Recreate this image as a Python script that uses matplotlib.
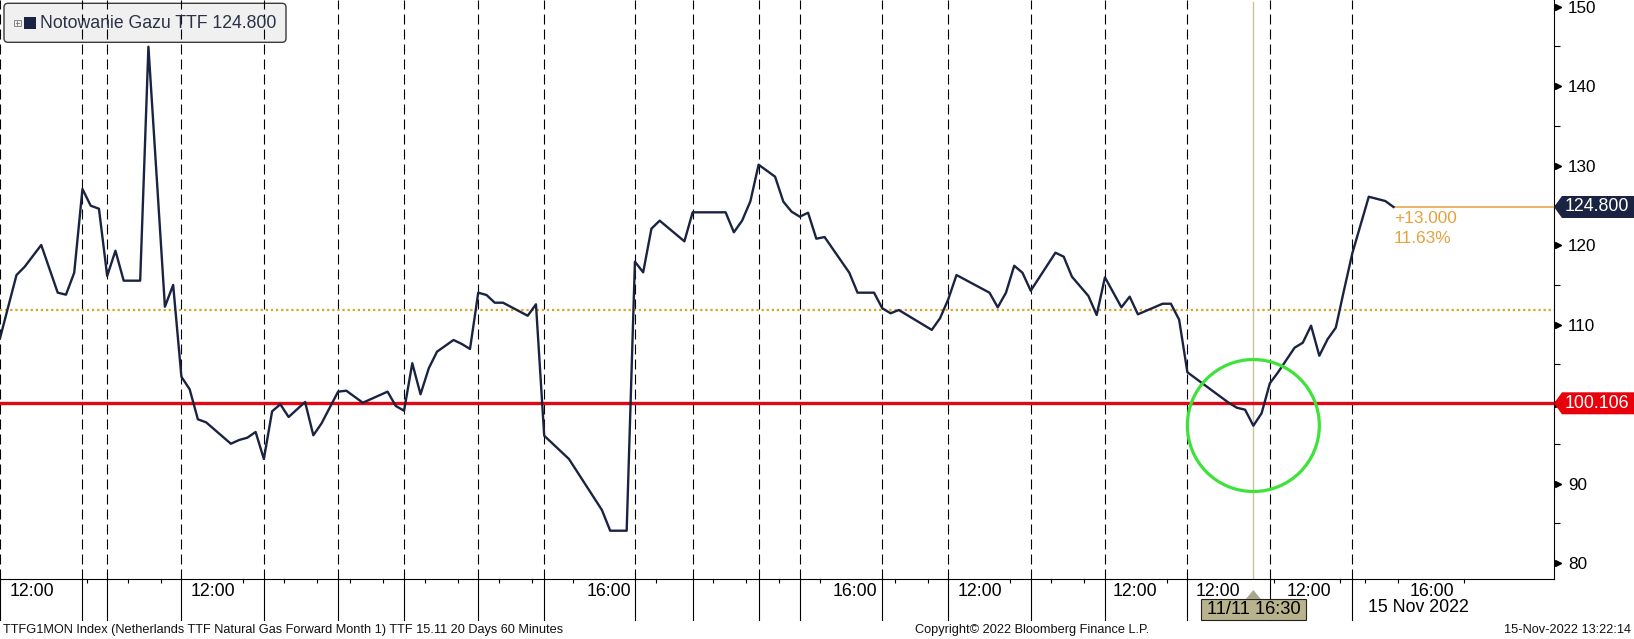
import matplotlib
matplotlib.use('Agg')
import matplotlib.pyplot as plt
from matplotlib.patches import Ellipse, Rectangle, Polygon, FancyBboxPatch
from matplotlib.lines import Line2D
from matplotlib.transforms import blended_transform_factory, IdentityTransform, offset_copy

plt.rcParams['font.family'] = ['Liberation Sans', 'DejaVu Sans']

# ---------------- data ----------------
bar_index = [0, 2, 3, 5, 7, 8, 9, 10, 11, 12, 13, 14, 15, 17, 18, 20, 21, 22, 23, 24,
             25, 28, 29, 30, 31, 32, 33, 34, 35, 37, 38, 39, 41, 42, 44, 47, 48, 49, 50, 51,
             52, 53, 55, 56, 57, 58, 59, 60, 61, 64, 65, 66, 69, 73, 74, 76, 77, 78, 79, 80,
             83, 84, 88, 89, 90, 91, 92, 94, 95, 96, 97, 98, 99, 100, 103, 104, 106, 107, 108, 109,
             113, 114, 115, 116, 120, 121, 122, 123, 124, 125, 128, 129, 130, 132, 133, 134, 136, 137, 138, 141,
             142, 143, 144, 149, 150, 151, 152, 153, 154, 155, 157, 158, 159, 160, 161, 162, 163, 164, 166, 168,
             169]
price = [108.28, 116.24, 117.29, 120.02, 114.02, 113.77, 116.53, 127.06, 124.96, 124.58,
         116.12, 119.30, 115.53, 115.53, 144.96, 112.26, 114.99, 103.45, 101.87, 98.09,
         97.71, 95.02, 95.49, 95.78, 96.50, 93.10, 99.10, 99.98, 98.38, 100.27,
         96.08, 97.59, 101.57, 101.69, 100.18, 101.57, 99.77, 99.17, 105.14, 101.24,
         104.51, 106.60, 108.07, 107.57, 106.94, 114.02, 113.73, 112.76, 112.76, 111.12,
         112.56, 96.03, 93.10, 86.68, 84.08, 84.08, 117.92, 116.58, 122.07, 123.08,
         120.48, 124.13, 124.13, 121.62, 123.08, 125.51, 130.12, 128.61, 125.47, 124.21,
         123.58, 124.08, 120.81, 121.02, 116.53, 114.02, 114.02, 112.06, 111.43, 111.84,
         109.34, 110.80, 113.19, 116.24, 114.02, 112.18, 114.02, 117.41, 116.53, 114.27,
         119.05, 118.55, 116.03, 113.60, 111.21, 115.95, 112.18, 113.52, 111.30, 112.63,
         112.63, 110.62, 104.01, 100.18, 99.55, 99.30, 97.29, 98.85, 102.62, 104.01,
         107.10, 107.73, 109.87, 106.09, 108.16, 109.62, 114.36, 118.97, 126.09, 125.55,
         124.80]
day_breaks = [0, 10, 13, 22, 32, 41, 49, 58, 66, 77, 84, 92, 97, 107, 115, 125, 134, 144, 154, 164]
hour_ticks = [10.5, 15.5, 19.5, 29.5, 34.5, 38.5, 42.5, 46.5, 51.5, 55.5, 60.5, 64.5, 69.5,
              79.5, 86.5, 90.5, 94.5, 99.5, 108.5, 112.5, 122.5, 127.5, 131.5, 141.5, 154.5,
              162.5, 165.5, 169.5, 177.5]
time_tick_pos = [3.84, 25.8, 73.8, 103.7, 118.8, 137.7, 147.7, 158.8, 173.7]
time_tick_labels = ['12:00', '12:00', '16:00', '16:00', '12:00', '12:00', '12:00', '12:00', '16:00']
y_ticks = [80, 90, 100, 110, 120, 130, 140, 150]
y_minor = [85, 95, 105, 115, 125, 135, 145]
last_price = 124.800
trigger_level = 100.106
ref_level = 111.8
change_abs = 13.000
change_pct = 11.63
crosshair_idx = 152
crosshair_label = '11/11 16:30'
date_label = '15 Nov 2022'
date_label_pos = 172
legend_label = 'Notowanie Gazu TTF'
footer_left = 'TTFG1MON Index (Netherlands TTF Natural Gas Forward Month 1) TTF 15.11 20 Days 60 Minutes'
footer_mid = 'Copyright\u00a9 2022 Bloomberg Finance L.P.'
footer_right = '15-Nov-2022 13:22:14'

# ---------------- layout ----------------
W, H = 1634, 639
AX_R, AX_B = 1554, 579
PX_PER_BAR = 8.2457
fig = plt.figure(figsize=(W / 100, H / 100), dpi=100, facecolor='white')
ax = fig.add_axes([0, (H - AX_B) / H, AX_R / W, AX_B / H])
ax.set_facecolor('none')
XMAX = AX_R / PX_PER_BAR
ax.set_xlim(0, XMAX)
ax.set_ylim(78.005, 150.836)

NAVY = '#1b2342'
RED = '#e30613'
GOLD = '#d9a326'
ORANGE = '#e6a13c'

for s in ['top', 'left']:
    ax.spines[s].set_visible(False)
for s in ['right', 'bottom']:
    ax.spines[s].set_linewidth(0.8)
    ax.spines[s].set_color('black')

trans_xa = blended_transform_factory(ax.transData, ax.transAxes)

# day separators
ax.vlines(day_breaks, 78.005, 150.836, colors='black', linewidth=0.8,
          linestyles=(0, (9, 4.5)), zorder=1)
for d in day_breaks:
    ax.add_line(Line2D([d, d], [0, -41 / AX_B], transform=trans_xa, color='black',
                       lw=0.8, clip_on=False, zorder=2))

# reference levels
ax.axhline(ref_level, color=GOLD, lw=1.6, linestyle=(0, (1.0, 1.3)), zorder=2)
ax.axhline(trigger_level, color=RED, lw=2.4, zorder=3)
ax.axvline(crosshair_idx, color='#cbbf9f', lw=1.0, ymax=0.997, zorder=2)

# price line
ax.plot(bar_index, price, color=NAVY, lw=1.7, zorder=4)
ax.hlines(last_price, bar_index[-1], XMAX, color=ORANGE, lw=1.1, zorder=3)

# change annotation
ax.annotate(f'+{change_abs:.3f}', xy=(bar_index[-1], last_price), xytext=(0.3, -8.4),
            textcoords='offset points', ha='left', va='center', fontsize=12.4, color=ORANGE)
ax.annotate(f'{change_pct:.2f}%', xy=(bar_index[-1], last_price), xytext=(0.3, -22.8),
            textcoords='offset points', ha='left', va='center', fontsize=12.4, color=ORANGE)

# green circle
ax.add_patch(Ellipse((crosshair_idx, 97.31), width=132 / PX_PER_BAR, height=132 / 7.95,
                     fill=False, ec='#3ee23a', lw=2.3, zorder=5))

# y axis on the right (the 100 label sits under the red value tag)
ax.yaxis.set_ticks_position('right')
ax.set_yticks(y_ticks)
ax.set_yticks(y_minor, minor=True)
ax.set_yticklabels(['' if v == 100 else str(v) for v in y_ticks])
ax.tick_params(axis='y', which='major', direction='out', length=5, width=0.9,
               pad=5, labelsize=12.3, colors='black')
ax.tick_params(axis='y', which='minor', direction='out', length=4.5, width=0.8)
trans_ay = blended_transform_factory(ax.transAxes, ax.transData)
ax.plot([1.0] * len(y_ticks), y_ticks, ls='none', marker='>', ms=4.5, color='black',
        transform=offset_copy(trans_ay, fig=fig, x=3, y=0, units='points'), clip_on=False)

# x axis
ax.set_xticks(time_tick_pos)
ax.set_xticklabels(time_tick_labels)
ax.set_xticks(hour_ticks, minor=True)
ax.tick_params(axis='x', which='major', length=0, pad=3.2, labelsize=12.8, colors='black')
ax.tick_params(axis='x', which='minor', length=3, width=0.8, direction='out')

ax.text(date_label_pos, -(608 - AX_B) / AX_B, date_label, transform=trans_xa,
        ha='center', va='center', fontsize=12.8, color='black')

# crosshair date box (drawn over the separator ticks)
bw = 105 / PX_PER_BAR
ax.add_patch(Rectangle((crosshair_idx - bw / 2, -(620 - AX_B) / AX_B), bw, 21 / AX_B,
                       transform=trans_xa, fc='#b8b38c', ec='#222222', lw=0.8,
                       clip_on=False, zorder=6))
tw = 7.5 / PX_PER_BAR
ax.add_patch(Polygon([(crosshair_idx - tw, -(599 - AX_B) / AX_B),
                      (crosshair_idx + tw, -(599 - AX_B) / AX_B),
                      (crosshair_idx, -(590 - AX_B) / AX_B)],
                     closed=True, transform=trans_xa, fc='#aaa78e', ec='none',
                     clip_on=False, zorder=6))
ax.text(crosshair_idx, -(609.5 - AX_B) / AX_B, crosshair_label, transform=trans_xa,
        ha='center', va='center', fontsize=13.2, color='black', zorder=7)

# right-side value tags
trans_fy = blended_transform_factory(fig.transFigure, ax.transData)
half = 11 / 7.95
for val, fc in [(last_price, NAVY), (trigger_level, '#e8000b')]:
    pts = [(AX_R / W, val), ((AX_R + 8) / W, val + half), (1.0, val + half),
           (1.0, val - half), ((AX_R + 8) / W, val - half)]
    ax.add_patch(Polygon(pts, closed=True, transform=trans_fy, fc=fc, ec='none',
                         clip_on=False, zorder=6))
    ax.text(1597 / W, val, f'{val:.3f}', transform=trans_fy, ha='center', va='center',
            fontsize=12.8, color='white', zorder=7, clip_on=False)

# legend box (pixel coordinates)
idt = IdentityTransform()
leg = FancyBboxPatch((4, H - 42.3), 282, 39, boxstyle='round,pad=0,rounding_size=4',
                     fc='#f0f0f0', ec='#3a3a3a', lw=1.0, transform=idt, zorder=-1)
fig.add_artist(leg)
fig.add_artist(Rectangle((14, H - 26), 6.5, 6.5, fill=False, ec='#777777', lw=0.6,
                         transform=idt, zorder=5))
fig.add_artist(Line2D([15.5, 19], [H - 22.75, H - 22.75], color='#777777', lw=0.6,
                      transform=idt, zorder=5))
fig.add_artist(Line2D([17.25, 17.25], [H - 24.5, H - 21], color='#777777', lw=0.6,
                      transform=idt, zorder=5))
fig.add_artist(Rectangle((24, H - 29.3), 11.7, 12, fc=NAVY, ec='none', transform=idt, zorder=5))
fig.text(40 / W, 1 - 23.5 / H, f'{legend_label} {last_price:.3f}', ha='left', va='center',
         fontsize=12.7, color='#2b3147', zorder=5)

# footer
fig.text(3 / W, 1 - 630 / H, footer_left, ha='left', va='center', fontsize=9.2, color='#111111')
fig.text(915 / W, 1 - 630 / H, footer_mid, ha='left', va='center', fontsize=9.2, color='#111111')
fig.text(1631 / W, 1 - 630 / H, footer_right, ha='right', va='center', fontsize=9.2, color='#111111')

fig.savefig('out.png', dpi=100, facecolor='white')
